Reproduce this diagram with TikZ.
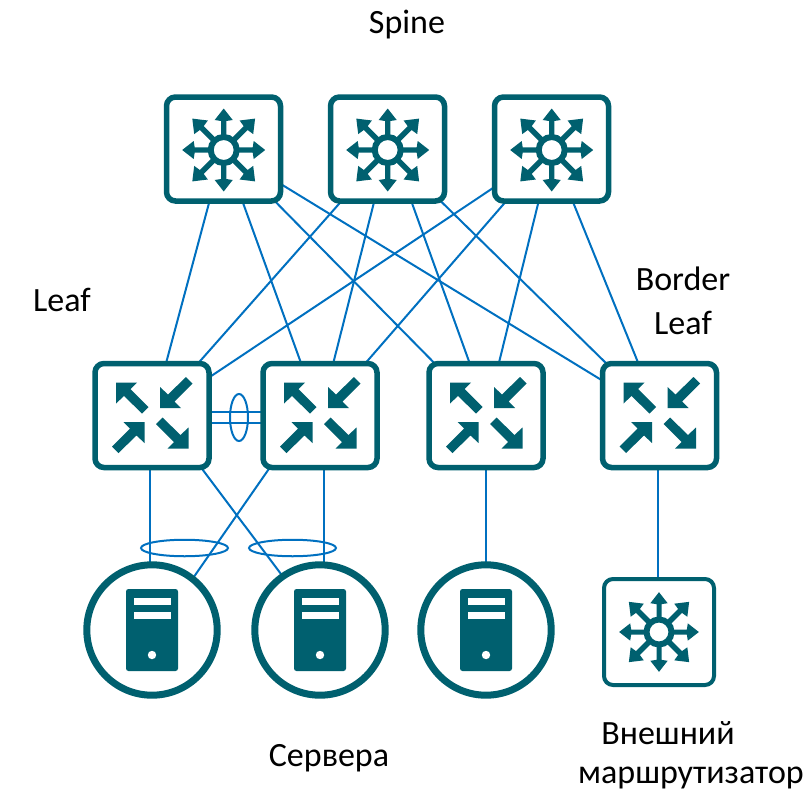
\documentclass[tikz,border=0pt]{standalone}
\usepackage{fontspec}
\setmainfont{Carlito}
\usetikzlibrary{backgrounds,shapes.geometric}
\definecolor{teal}{HTML}{00606F}
\definecolor{linkblue}{HTML}{0070C0}
\tikzset{
  box/.style={draw=teal,fill=white,line width=5.5pt,rounded corners=9pt,minimum width=114pt,minimum height=104pt,inner sep=0pt},
  routerbox/.style={box,line width=4pt,minimum width=110pt,minimum height=106pt},
  srv/.style={circle,draw=teal,fill=white,line width=7pt,minimum size=130.4pt,inner sep=0pt},
  link/.style={draw=linkblue,line width=2pt},
  ring/.style={ellipse,draw=linkblue,line width=2pt,inner sep=0pt},
  lbl/.style={font=\fontsize{34}{40}\selectfont,text=black,inner sep=0pt},
  multiarrow/.pic={
    \foreach \a/\s in {0/1,45/1.07,90/1,135/1.07,180/1,225/1.07,270/1,315/1.07}{
      \fill[teal,rotate=\a,scale=\s] (41.5,0) -- (30,9) -- (29,2.6) -- (13,2.6) -- (13,-2.6) -- (29,-2.6) -- (30,-9) -- cycle;
    }
    \draw[teal,line width=6pt,fill=white] (0,0) circle (13pt);
  },
  inarrow/.pic={
    \fill[teal] (0,0) -- (21,0) -- (14.5,6.5) -- (32.5,24.5) -- (26,31) -- (8,13.5) -- (0,21) -- cycle;
  },
  leaficon/.pic={
    \pic[shift={(-36,-33)}] {inarrow};
    \pic[shift={(8,-7.5)},yscale=-1] {inarrow};
    \pic[shift={(-7.5,6.5)},xscale=-1] {inarrow};
    \pic[shift={(36.5,33)},xscale=-1,yscale=-1] {inarrow};
  },
  servericon/.pic={
    \fill[teal,rounded corners=2.5pt] (-26,-41) rectangle (26,41);
    \fill[white] (-18.5,-32) rectangle (18.5,-25);
    \fill[white] (-18.5,-18) rectangle (18.5,-11);
    \fill[white] (0,25) circle (4.2pt);
  }
}
\begin{document}
\begin{tikzpicture}[x=1pt,y=-1pt]
\useasboundingbox (0,0) rectangle (811,795);
\node[box] (s1) at (223.5,149) {};
\node[box] (s2) at (387.5,149) {};
\node[box] (s3) at (551.5,149) {};
\node[box] (l1) at (152,415.5) {};
\node[box] (l2) at (320,415.5) {};
\node[box] (l3) at (486,415.5) {};
\node[box] (l4) at (659.5,415.5) {};
\node[srv] (v1) at (152,630) {};
\node[srv] (v2) at (320,630) {};
\node[srv] (v3) at (486,630) {};
\node[routerbox] (r) at (659,632) {};
\begin{pgfonlayer}{background}
\foreach \a in {s1,s2,s3}\foreach \b in {l1,l2,l4}{\draw[link] (\a.center) -- (\b.center);}
\draw[link] (s1.center) -- (l3.center);
\draw[link] ([xshift=5pt]s2.center) -- ([xshift=2.5pt]l3.center);
\draw[link] (s3.center) -- (l3.center);
\draw[link] ([yshift=3.5pt]l1.center) -- ([yshift=3.5pt]l2.center);
\draw[link] ([yshift=-7.5pt]l1.center) -- ([yshift=-7.5pt]l2.center);
\draw[link] ([xshift=-2pt]l1.center) -- ([xshift=-2pt]v1.center);
\draw[link] ([xshift=4pt]l2.center) -- ([xshift=4pt]v2.center);
\draw[link] ([xshift=10pt]l1.center) -- ([xshift=3pt]v2.center);
\draw[link] ([xshift=-14pt]l2.center) -- ([xshift=5pt]v1.center);
\draw[link] (l3.center) -- (v3.center);
\draw[link] ([xshift=-1.5pt]l4.center) -- ([xshift=-1pt]r.center);
\end{pgfonlayer}
\foreach \p in {(223.7,150),(387.7,150),(551.7,150)}{\pic at \p {multiarrow};}
\pic[scale=.96] at (659,632) {multiarrow};
\foreach \p in {(152,415.5),(320,415.5),(486,415.5),(659.5,415.5)}{\pic at \p {leaficon};}
\foreach \p in {(152,630),(320,630),(486,630)}{\pic at \p {servericon};}
\node[ring,minimum width=18pt,minimum height=47pt] (e1) at (239,417.5) {};
\node[ring,minimum width=87pt,minimum height=16.5pt] (e2) at (184.5,548) {};
\node[ring,minimum width=87pt,minimum height=16.5pt] (e3) at (292.5,548) {};
\node[lbl] (t1) at (407,25) {Spine};
\node[lbl] (t2) at (62,300) {Leaf};
\node[lbl] (t3) at (683,279) {Border};
\node[lbl] (t4) at (683,323) {Leaf};
\node[lbl] (t5) at (329,758) {Сервера};
\node[lbl] (t6) at (668,733) {Внешний};
\node[lbl] (t7) at (691,778) {маршрутизатор};
\end{tikzpicture}
\end{document}
